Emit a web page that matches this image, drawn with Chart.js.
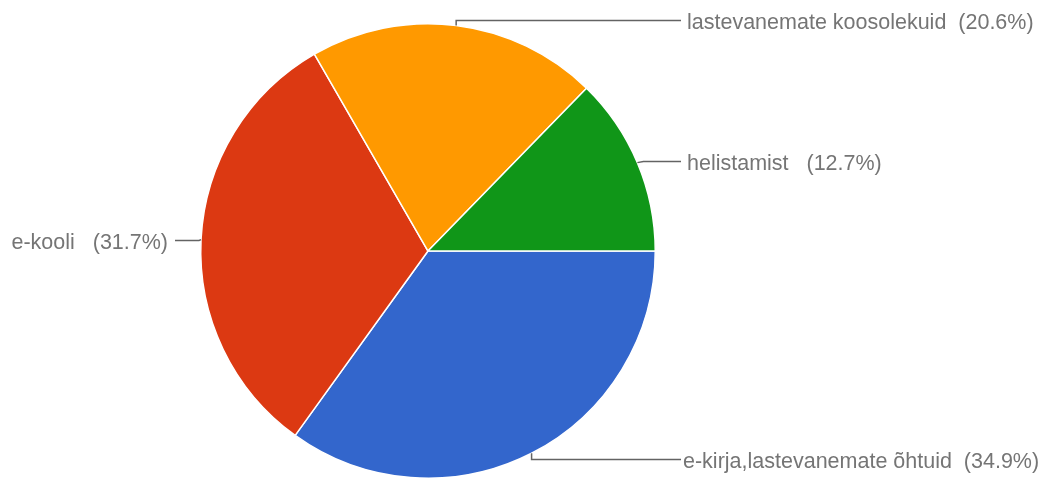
<!DOCTYPE html>
<html>
<head>
<meta charset="utf-8">
<script src="https://cdn.jsdelivr.net/npm/chart.js@4"></script>
<style>
  html, body { margin: 0; padding: 0; background: #fff; }
  #wrap { width: 1052px; height: 479px; position: relative; }
</style>
</head>
<body>
<div id="wrap"><canvas id="pie"></canvas></div>
<script>
/* pie: answers, order clockwise from 3 o'clock */
const labels = ['e-kirja,lastevanemate õhtuid', 'e-kooli', 'lastevanemate koosolekuid', 'helistamist'];
const shares = [34.9, 31.7, 20.6, 12.7];
const sliceColors = ['#3366cc', '#dc3912', '#ff9900', '#109618'];
const labelGaps = ['  ', '   ', '  ', '   '];

// leader line layout per slice: x where the text starts (right) or ends (left)
const labelLayout = [
  { side: 'right', textX: 683, lineEnd: 681, dy: 6 },
  { side: 'left', textX: 168, lineEnd: 175, dy: 0 },
  { side: 'right', textX: 687, lineEnd: 681, dy: -6 },
  { side: 'right', textX: 687, lineEnd: 681, dy: -2 },
];

const COLORS = { text: '#757575', line: '#636363' };

const leaderLabels = {
  id: 'leaderLabels',
  afterDatasetsDraw(chart) {
    const ctx = chart.ctx;
    const meta = chart.getDatasetMeta(0);
    ctx.save();
    ctx.font = '21.5px "Liberation Sans", Arial, sans-serif';
    ctx.textBaseline = 'alphabetic';
    meta.data.forEach((arc, i) => {
      const p = arc.getProps(['x', 'y', 'startAngle', 'endAngle', 'outerRadius'], true);
      const mid = (p.startAngle + p.endAngle) / 2;
      const ax = p.x + Math.cos(mid) * p.outerRadius;
      const ay = p.y + Math.sin(mid) * p.outerRadius;
      const lay = labelLayout[i];
      const ly = Math.round(ay + lay.dy) + 0.5;
      const txt = labels[i] + labelGaps[i] + '(' + shares[i].toFixed(1) + '%)';
      ctx.strokeStyle = COLORS.line;
      ctx.lineWidth = 1.5;
      ctx.beginPath();
      ctx.moveTo(ax, ay);
      if (lay.side === 'right') {
        ctx.lineTo(ax + (Math.abs(lay.dy) > 3 ? 0 : 6), ly);
      } else {
        ctx.lineTo(ax - 2, ly);
      }
      ctx.lineTo(lay.lineEnd, ly);
      ctx.stroke();
      ctx.fillStyle = COLORS.text;
      ctx.textAlign = lay.side === 'right' ? 'left' : 'right';
      ctx.fillText(txt, lay.textX, ly + 8);
    });
    ctx.restore();
  }
};

new Chart(document.getElementById('pie'), {
  type: 'pie',
  data: {
    labels,
    datasets: [{
      data: shares,
      backgroundColor: sliceColors,
      borderColor: '#ffffff',
      borderWidth: 1.5,
      hoverOffset: 0,
    }]
  },
  options: {
    responsive: true, maintainAspectRatio: false, animation: false,
    rotation: 90,
    layout: { padding: { left: 200, right: 396, top: 23, bottom: 0 } },
    plugins: { legend: { display: false }, tooltip: { enabled: false } },
  },
  plugins: [leaderLabels]
});
</script>
</body>
</html>
